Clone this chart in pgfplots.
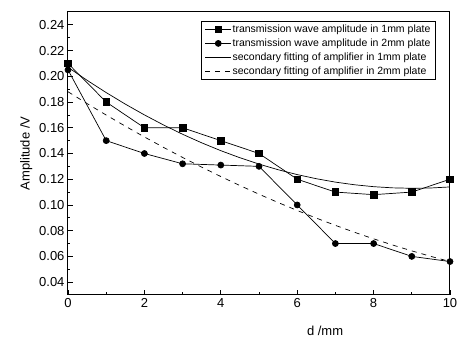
\documentclass[border=0pt]{standalone}
\usepackage{fontspec}
\setmainfont{Liberation Sans}
\usepackage{pgfplots}
\pgfplotsset{compat=1.18}
\begin{document}
\begin{tikzpicture}
\useasboundingbox (-68pt,-44pt) rectangle (391pt,295pt);
\begin{axis}[name=ax, scale only axis, width=382pt, height=283pt,
  xmin=0, xmax=10, ymin=0.03, ymax=0.25,
  xtick={0,2,4,6,8,10},
  ytick={0.04,0.06,0.08,0.10,0.12,0.14,0.16,0.18,0.20,0.22,0.24},
  minor x tick num=1, minor y tick num=1,
  tick align=inside, xtick pos=bottom, ytick pos=left,
  major tick length=5pt, minor tick length=2.5pt,
  tick style={black, line width=0.8pt},
  yticklabel style={/pgf/number format/.cd, fixed, fixed zerofill, precision=2},
  /pgf/number format/assume math mode=true,
  ticklabel style={font=\fontsize{13}{15}\selectfont},
  axis line style={line width=1pt},
  xlabel={d /mm}, ylabel={Amplitude /V},
  label style={font=\fontsize{13}{15}\selectfont},
  xlabel style={at={(axis description cs:0.673,0)}, anchor=north, yshift=-28pt},
  legend cell align=left,
  legend style={at={(0.963,0.969)}, anchor=north east, draw=black, line width=0.8pt,
    font=\fontsize{10.5}{12}\selectfont,
    nodes={inner sep=1pt, text height=8pt, text depth=2.5pt}, row sep=1.5pt,
    inner xsep=4pt, inner ysep=2pt},
  legend image code/.code={\draw[mark repeat=2,mark phase=2] plot coordinates {(0pt,0pt) (13pt,0pt) (26pt,0pt)};},
]
\addplot[black, line width=0.7pt, mark=square*, mark size=3.3pt, mark options={solid}] coordinates {
(0,0.210) (1,0.180) (2,0.160) (3,0.160) (4,0.150) (5,0.140) (6,0.120) (7,0.110) (8,0.108) (9,0.110) (10,0.120)};
\addlegendentry{transmission wave amplitude in 1mm plate}
\addplot[black, line width=0.7pt, mark=*, mark size=3pt, mark options={solid}] coordinates {
(0,0.205) (1,0.150) (2,0.140) (3,0.132) (4,0.131) (5,0.130) (6,0.100) (7,0.070) (8,0.070) (9,0.060) (10,0.056)};
\addlegendentry{transmission wave amplitude in 2mm plate}
\addplot[black, line width=0.7pt, no marks] coordinates {
(0,0.2070) (0.5,0.19689) (1,0.18735) (1.5,0.17839) (2,0.1700) (2.5,0.16219) (3,0.15495) (3.5,0.14829) (4,0.1422) (4.5,0.13669) (5,0.13175) (5.5,0.12739) (6,0.1236) (6.5,0.12039) (7,0.11775) (7.5,0.11569) (8,0.1142) (8.5,0.11329) (9,0.11295) (9.5,0.11319) (10,0.1140)};
\addlegendentry{secondary fitting of amplifier in 1mm plate}
\addplot[black, line width=0.7pt, no marks, dash pattern=on 5pt off 5pt] coordinates {
(0,0.1880) (0.5,0.17881) (1,0.16989) (1.5,0.16124) (2,0.15286) (2.5,0.14476) (3,0.13693) (3.5,0.12938) (4,0.1221) (4.5,0.11509) (5,0.10835) (5.5,0.10189) (6,0.0957) (6.5,0.08978) (7,0.08413) (7.5,0.07876) (8,0.07366) (8.5,0.06884) (9,0.06429) (9.5,0.06001) (10,0.0560)};
\addlegendentry{secondary fitting of amplifier in 2mm plate}
\end{axis}
\end{tikzpicture}
\end{document}
